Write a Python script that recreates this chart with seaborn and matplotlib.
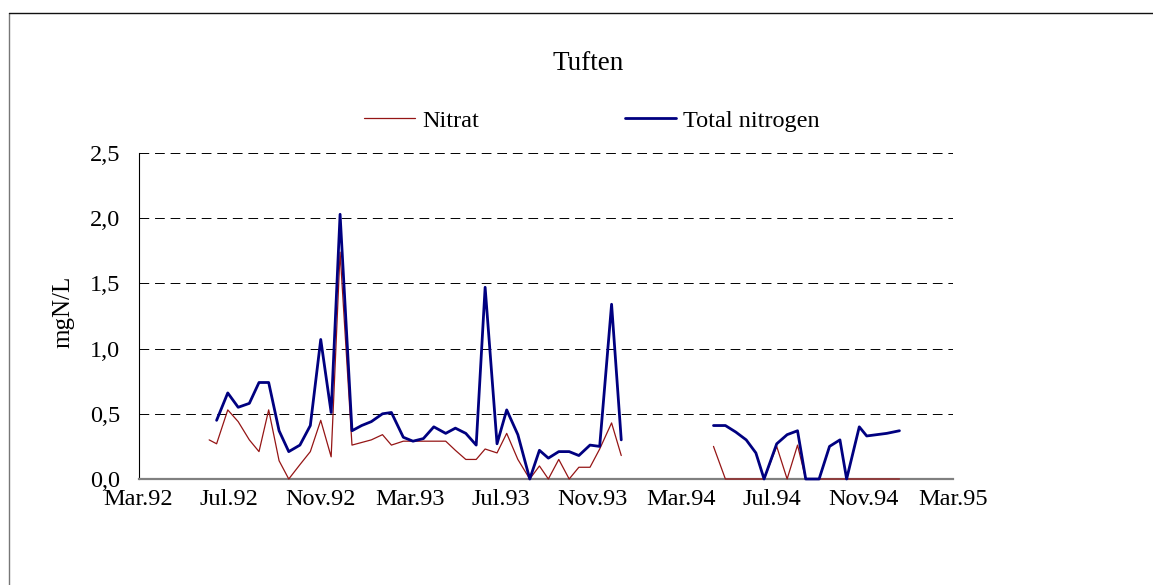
import pandas as pd
import seaborn as sns
import matplotlib.pyplot as plt
import matplotlib.dates as mdates
from matplotlib.lines import Line2D

# sampling dates, two campaigns with a winter gap
dates = ['1992-06-04', '1992-06-14', '1992-06-29', '1992-07-13', '1992-07-28', '1992-08-10',
         '1992-08-23', '1992-09-06', '1992-09-19', '1992-10-04', '1992-10-18', '1992-11-01',
         '1992-11-15', '1992-11-27', '1992-12-13', '1992-12-26', '1993-01-08', '1993-01-23',
         '1993-02-04', '1993-02-20', '1993-03-05', '1993-03-19', '1993-04-02', '1993-04-18',
         '1993-05-01', '1993-05-15', '1993-05-29', '1993-06-10', '1993-06-26', '1993-07-09',
         '1993-07-24', '1993-08-09', '1993-08-22', '1993-09-03', '1993-09-17', '1993-10-01',
         '1993-10-14', '1993-10-29', '1993-11-11', '1993-11-27', '1993-12-10',
         '1994-04-13', '1994-04-29', '1994-05-13', '1994-05-27', '1994-06-09', '1994-06-20',
         '1994-07-07', '1994-07-21', '1994-08-04', '1994-08-15', '1994-09-02', '1994-09-16',
         '1994-09-30', '1994-10-09', '1994-10-26', '1994-11-05', '1994-12-02', '1994-12-19']

nitrat = [0.30, 0.27, 0.53, 0.44, 0.30, 0.21, 0.53, 0.14, 0.00, 0.11, 0.21, 0.45,
          0.17, 1.74, 0.26, 0.28, 0.30, 0.34, 0.26, 0.29, 0.29, 0.29, 0.29, 0.29,
          0.22, 0.15, 0.15, 0.23, 0.20, 0.35, 0.15, 0.00, 0.10, 0.00, 0.15, 0.00,
          0.09, 0.09, 0.23, 0.43, 0.18,
          0.25, 0.00, 0.00, 0.00, 0.00, 0.00, 0.25, 0.00, 0.26, 0.00, 0.00, 0.00,
          0.00, 0.00, 0.00, 0.00, 0.00, 0.00]

total_n = [None, 0.45, 0.66, 0.55, 0.58, 0.74, 0.74, 0.37, 0.21, 0.26, 0.41, 1.07,
           0.51, 2.03, 0.37, 0.41, 0.44, 0.50, 0.51, 0.32, 0.29, 0.31, 0.40, 0.35,
           0.39, 0.35, 0.26, 1.47, 0.27, 0.53, 0.34, 0.00, 0.22, 0.16, 0.21, 0.21,
           0.18, 0.26, 0.25, 1.34, 0.30,
           0.41, 0.41, 0.36, 0.30, 0.20, 0.00, 0.27, 0.34, 0.37, 0.00, 0.00, 0.25,
           0.30, 0.00, 0.40, 0.33, 0.35, 0.37]

x_labels = ['Mar.92', 'Jul.92', 'Nov.92', 'Mar.93', 'Jul.93', 'Nov.93',
            'Mar.94', 'Jul.94', 'Nov.94', 'Mar.95']
y_ticks = [0.0, 0.5, 1.0, 1.5, 2.0, 2.5]
y_labels = ['0,0', '0,5', '1,0', '1,5', '2,0', '2,5']

df = pd.DataFrame({'date': pd.to_datetime(dates), 'Nitrat': nitrat, 'Total nitrogen': total_n})
# break the line where sampling stopped for the winter
df['segment'] = (df['date'].diff() > pd.Timedelta(days=60)).cumsum()
long = df.melt(id_vars=['date', 'segment'], var_name='series', value_name='val').dropna()

sns.set_style('white')
plt.rcParams['font.family'] = ['Liberation Serif', 'DejaVu Serif']
plt.rcParams['text.color'] = 'black'
plt.rcParams['xtick.color'] = 'black'
plt.rcParams['ytick.color'] = 'black'

W, H = 1153, 585
fig = plt.figure(figsize=(W / 100, H / 100), dpi=100)
ax = fig.add_axes([138.5 / W, 1 - 479 / H, (953 - 138.5) / W, (479 - 153) / H])

sns.lineplot(data=long, x='date', y='val', hue='series', size='series',
             hue_order=['Nitrat', 'Total nitrogen'],
             palette={'Nitrat': '#951515', 'Total nitrogen': '#000080'},
             sizes={'Nitrat': 0.9, 'Total nitrogen': 2.0},
             units='segment', estimator=None, ax=ax)
for ln in ax.lines:
    ln.set_zorder(3)
    ln.set_clip_on(False)

ax.set_xlim(pd.Timestamp('1992-03-01'), pd.Timestamp('1995-03-01'))
ax.set_ylim(0, 2.5)

major = pd.date_range('1992-03-01', '1995-03-01', freq='4MS')
minor = pd.date_range('1992-03-01', '1995-03-01', freq='2MS')
ax.set_xticks(mdates.date2num(major.to_pydatetime()))
ax.set_xticklabels(x_labels)
ax.set_xticks(mdates.date2num(minor.to_pydatetime()), minor=True)
ax.set_yticks(y_ticks)
ax.set_yticklabels(y_labels)

ax.tick_params(axis='x', which='major', direction='inout', length=11.5, width=1.1,
               color='black', labelcolor='black', pad=1.5, labelsize=17.5)
ax.tick_params(axis='x', which='minor', direction='inout', length=8.5, width=0.8,
               color='black')
ax.tick_params(axis='y', direction='inout', length=10, width=0.8, color='black',
               labelcolor='black', pad=8, labelsize=17.5)

ax.yaxis.grid(True, color='black', linestyle=(0, (10, 6)), linewidth=0.7)
ax.xaxis.grid(False)
for s in ['top', 'right']:
    ax.spines[s].set_visible(False)
ax.spines['left'].set_color('black')
ax.spines['left'].set_linewidth(0.8)
ax.spines['bottom'].set_color('#808080')
ax.spines['bottom'].set_linewidth(1.6)
ax.set_xlabel('')
ax.set_ylabel('')

fig.text(63 / W, 1 - 312 / H, 'mgN/L', rotation=90, ha='center', va='center',
         fontsize=18, color='black')
fig.text(588 / W, 1 - 69.5 / H, 'Tuften', ha='center', va='baseline', fontsize=19.5,
         color='black')

handles, labels = ax.get_legend_handles_labels()
ax.get_legend().remove()
leg = fig.legend(handles, labels, loc='center', bbox_to_anchor=(592 / W, 1 - 121 / H),
                 ncol=2, frameon=False, fontsize=17.5, handlelength=2.1,
                 handletextpad=0.3, columnspacing=6.0)
for t in leg.get_texts():
    t.set_color('black')

# outer chart frame (only left and top edges show in the crop)
fig.add_artist(Line2D([8.5 / W, 8.5 / W], [0, 1 - 12.5 / H], transform=fig.transFigure,
                      color='#777777', lw=1))
fig.add_artist(Line2D([8.5 / W, 1], [1 - 12.5 / H, 1 - 12.5 / H], transform=fig.transFigure,
                      color='#111111', lw=1))

plt.savefig('out.png', dpi=100)
